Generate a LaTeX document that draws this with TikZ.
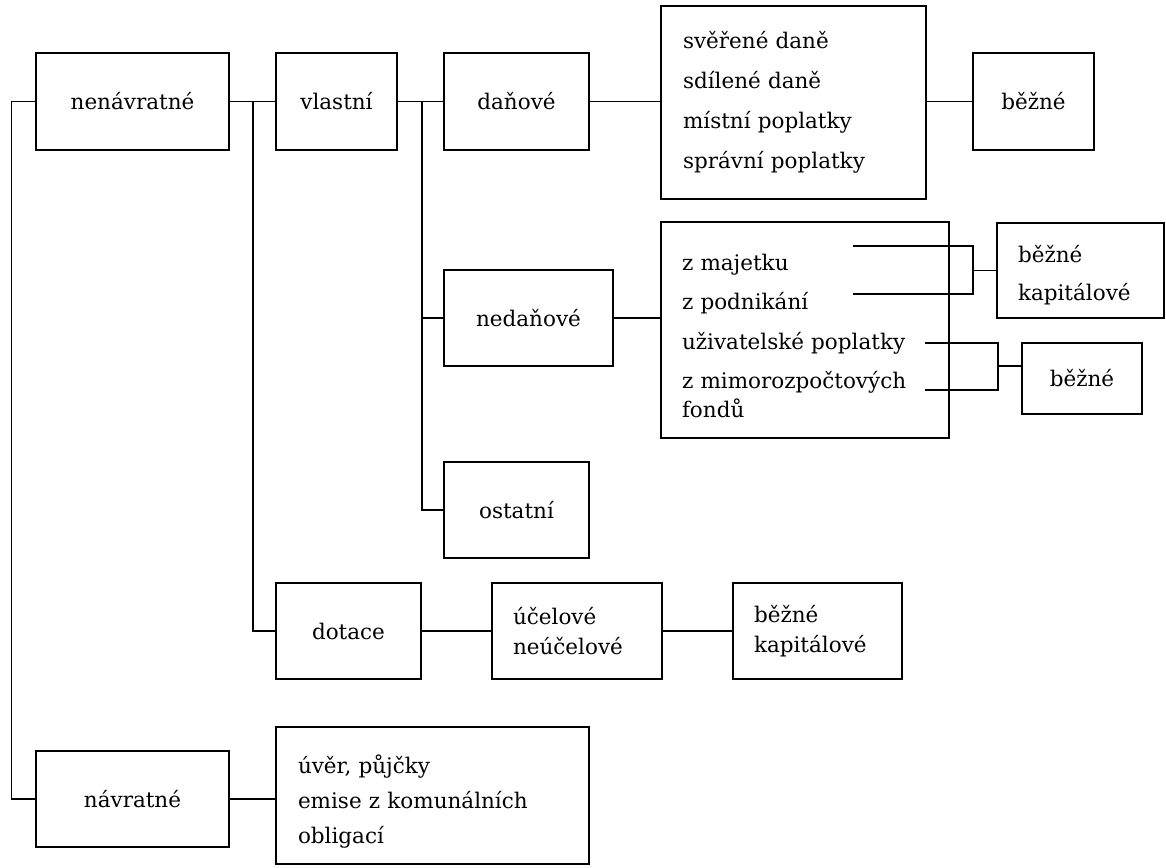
\documentclass[tikz,border=0pt]{standalone}
\usepackage{fontspec}
\setmainfont{DejaVu Serif}
\begin{document}
\begin{tikzpicture}[x=1pt,y=-1pt,
  box/.style={draw, line width=1.5pt, inner sep=0pt, font=\fontsize{21.5}{26}\selectfont},
  listbox/.style={box, align=left, inner ysep=0pt},
  conn/.style={line width=1.5pt}]
\useasboundingbox (0,0) rectangle (1166,867);
\fill[white] (0,0) rectangle (1166,867);

% column 1
\node[box, minimum width=193, minimum height=97] (nen) at (132.5,101.5) {nenávratné};
\node[box, minimum width=193, minimum height=96] (nav) at (132.5,799) {návratné};

% column 2
\node[box, minimum width=121, minimum height=97] (vl) at (336.5,101.5) {vlastní};
\node[box, minimum width=145, minimum height=96] (dot) at (348.5,631) {dotace};
\node[listbox, text width=269, inner xsep=22, minimum height=137,
      font=\fontsize{21.5}{35}\selectfont] (uver) at (432.5,795.5)
      {\rule{0pt}{30pt}úvěr, půjčky\\emise z komunálních\\obligací};

% column 3
\node[box, minimum width=145, minimum height=97] (dan) at (516.5,101.5) {daňové};
\node[box, minimum width=169, minimum height=96] (nedan) at (528.5,318) {nedaňové};
\node[box, minimum width=145, minimum height=96] (ost) at (516.5,510) {ostatní};
\node[listbox, text width=128, inner xsep=21, minimum height=96,
      font=\fontsize{21.5}{30}\selectfont] (uc) at (577,631) {účelové\\neúčelové};

% column 4
\node[listbox, text width=221, inner xsep=22, minimum height=193,
      font=\fontsize{21.5}{40}\selectfont] (tax) at (793.5,102.5)
      {svěřené daně\\sdílené daně\\místní poplatky\\správní poplatky};
\node[listbox, text width=246, inner xsep=21, minimum height=216,
      font=\fontsize{21.5}{39.5}\selectfont] (ned) at (805,330)
      {\rule{0pt}{28pt}z majetku\\z podnikání\\uživatelské poplatky\\z mimorozpočtových\\[-10.5pt]fondů};
\node[listbox, text width=127, inner xsep=21, minimum height=96,
      font=\fontsize{21.5}{30}\selectfont] (bk2) at (817.5,631) {běžné\\kapitálové};

% column 5
\node[box, minimum width=121, minimum height=97] (bez1) at (1033.5,101.5) {běžné};
\node[listbox, text width=125, inner xsep=21, minimum height=95,
      font=\fontsize{21.5}{38}\selectfont] (bk1) at (1080.5,270.5) {\rule{0pt}{27pt}běžné\\kapitálové};
\node[box, minimum width=120, minimum height=71] (bez2) at (1082,378.5) {běžné};

% connectors
\draw[conn] (nen.west) -- ++(-24,0) |- (nav.west);
\draw[conn] (nen.east) -- (vl.west);
\draw[conn] ([xshift=23pt]nen.east) |- (dot.west);
\draw[conn] (vl.east) -- (dan.west);
\draw[conn] ([xshift=24pt]vl.east) |- (ost.west);
\draw[conn] ([xshift=24pt]vl.east) |- (nedan.west);
\draw[conn] (dan.east) -- (dan.east -| tax.west);
\draw[conn] (tax.east |- bez1.west) -- (bez1.west);
\draw[conn] (nedan.east) -- (nedan.east -| ned.west);
\draw[conn] (dot.east) -- (uc.west);
\draw[conn] (uc.east) -- (bk2.west);
\draw[conn] (nav.east) -- (nav.east -| uver.west);

% bracket connectors inside the non-tax list
\coordinate (m1) at (853,246);
\coordinate (m2) at (853,294);
\coordinate (j1) at (973,270.5);
\draw[conn] (m1) -- (m1 -| j1) -- (m2 -| j1) -- (m2);
\draw[conn] (j1) -- (bk1.west);
\coordinate (u1) at (925,343);
\coordinate (u2) at (925,390);
\coordinate (j2) at (998,366);
\draw[conn] (u1) -- (u1 -| j2) -- (u2 -| j2) -- (u2);
\draw[conn] (j2) -- (j2 -| bez2.west);
\end{tikzpicture}
\end{document}
